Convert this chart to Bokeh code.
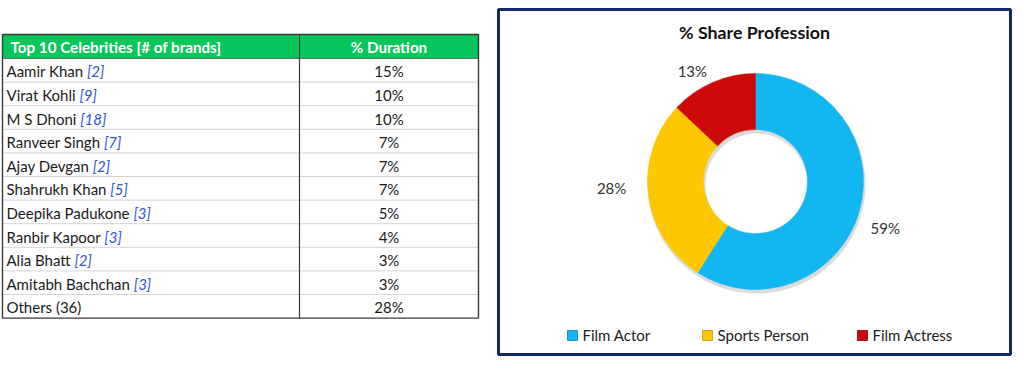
import math
import subprocess
from bokeh.plotting import figure
from bokeh.models import Range1d
from bokeh.core.properties import value
from bokeh.embed import file_html
from bokeh.resources import INLINE

# ---------------- data ----------------
header_labels = ["Top 10 Celebrities [# of brands]", "% Duration"]
celebrities = ["Aamir Khan", "Virat Kohli", "M S Dhoni", "Ranveer Singh", "Ajay Devgan",
               "Shahrukh Khan", "Deepika Padukone", "Ranbir Kapoor", "Alia Bhatt",
               "Amitabh Bachchan"]
brand_counts = [2, 9, 18, 7, 2, 5, 3, 3, 2, 3]
duration_pct = [15, 10, 10, 7, 7, 7, 5, 4, 3, 3]
others_label = "Others (36)"
others_pct = 28

chart_title = "% Share Profession"
professions = ["Film Actor", "Sports Person", "Film Actress"]
profession_share = [59, 28, 13]
profession_colors = ["#12B7F1", "#FEC801", "#CD0A0A"]

# ---------------- layout ----------------
W, H = 1020, 385
FONT = "Lato"


def Y(y_img):
    """image-style (top-down) y to data y"""
    return 389 - y_img


def text_width(s, size, style="Regular"):
    try:
        from PIL import ImageFont
        path = subprocess.run(["fc-match", "-f", "%{file}", f"{FONT}:style={style}"],
                              capture_output=True, text=True).stdout.strip()
        return ImageFont.truetype(path, size).getlength(s)
    except Exception:
        return 0.5 * size * len(s)


p = figure(width=W, height=H, x_range=Range1d(0, W), y_range=Range1d(389 - H, 389),
           output_backend="svg", toolbar_location=None, x_axis_type=None, y_axis_type=None,
           min_border=0, outline_line_color=None, background_fill_color="white",
           border_fill_color="white")
p.xgrid.grid_line_color = None
p.ygrid.grid_line_color = None

# ---------------- table ----------------
TL, TR, TC = 2, 478, 299
T_TOP, HDR_BOT = 34, 58
ROW_H = 23.6
names = celebrities + [others_label]
pcts = duration_pct + [others_pct]
n = len(names)
T_BOT = HDR_BOT + n * ROW_H

p.quad(left=[TL], right=[TR], top=[Y(T_TOP)], bottom=[Y(HDR_BOT)],
       fill_color="#07C75C", line_color=None)

sep = [HDR_BOT + i * ROW_H for i in range(1, n)]
p.multi_line(xs=[[TL, TR] for _ in sep], ys=[[Y(b), Y(b)] for b in sep],
             line_color="#a8a8a8", line_width=1, line_dash="1 1")
p.segment(x0=[TL], y0=[Y(HDR_BOT)], x1=[TR], y1=[Y(HDR_BOT)], line_color="#555555", line_width=0.8)
p.quad(left=[TL], right=[TR], top=[Y(T_TOP)], bottom=[Y(T_BOT)],
       fill_color=None, line_color="#3a3a3a", line_width=1.4)
p.segment(x0=[TC], y0=[Y(T_TOP)], x1=[TC], y1=[Y(T_BOT)], line_color="#3a3a3a", line_width=1.2)

hy = Y((T_TOP + HDR_BOT) / 2 + 0.5)
p.text(x=[10], y=[hy], text=[header_labels[0]], text_font=value(FONT), text_font_style="bold",
       text_font_size="15.2px", text_color="white", text_baseline="middle", text_align="left")
p.text(x=[(TC + TR) / 2], y=[hy], text=[header_labels[1]], text_font=value(FONT),
       text_font_style="bold", text_font_size="15.2px", text_color="white",
       text_baseline="middle", text_align="center")

row_y = [Y(HDR_BOT + (i + 0.5) * ROW_H + 1) for i in range(n)]
NAME_SIZE = 15
p.text(x=[6] * n, y=row_y, text=names, text_font=value(FONT), text_font_size=f"{NAME_SIZE}px",
       text_color="#1a1a1a", text_baseline="middle", text_align="left")
bx = [6 + text_width(nm + " ", NAME_SIZE) for nm in celebrities]
p.text(x=bx, y=row_y[:len(celebrities)], text=[f"[{b}]" for b in brand_counts],
       text_font=value(FONT), text_font_style="italic", text_font_size=f"{NAME_SIZE}px",
       text_color="#2F52DC", text_baseline="middle", text_align="left")
p.text(x=[(TC + TR) / 2] * n, y=row_y, text=[f"{v}%" for v in pcts], text_font=value(FONT),
       text_font_size=f"{NAME_SIZE}px", text_color="#1a1a1a", text_baseline="middle",
       text_align="center")

# ---------------- donut panel ----------------
p.quad(left=[498], right=[1010], top=[Y(9)], bottom=[Y(354)], fill_color=None,
       line_color="#13296B", line_width=3)
p.text(x=[754], y=[Y(31)], text=[chart_title], text_font=value(FONT), text_font_style="bold",
       text_font_size="17.8px", text_color="#111111", text_baseline="middle", text_align="center")

CX, CY = 755, 181
R_OUT, R_IN = 108, 52
total = sum(profession_share)
cum = [0]
for v in profession_share:
    cum.append(cum[-1] + v / total)
starts = [math.pi / 2 - 2 * math.pi * c for c in cum[:-1]]
ends = [math.pi / 2 - 2 * math.pi * c for c in cum[1:]]

# soft shadow
p.annulus(x=[CX + 1], y=[Y(CY) - 3], inner_radius=R_IN - 1, outer_radius=R_OUT + 1,
          fill_color="#000000", fill_alpha=0.14, line_color=None)
p.annular_wedge(x=CX, y=Y(CY), inner_radius=R_IN, outer_radius=R_OUT,
                start_angle=starts, end_angle=ends, direction="clock",
                fill_color=profession_colors, line_color=profession_colors, line_width=0.5)

# data labels (outside, at mid-angle)
label_gap = [30, 36, 19]
label_nudge_deg = [3.7, 4.8, -6.4]
lx, ly, lt = [], [], []
for i, v in enumerate(profession_share):
    mid = 360 * (cum[i] + cum[i + 1]) / 2 + label_nudge_deg[i]
    r = R_OUT + label_gap[i]
    lx.append(CX + r * math.sin(math.radians(mid)))
    ly.append(Y(CY - r * math.cos(math.radians(mid))))
    lt.append(f"{v}%")
p.text(x=lx, y=ly, text=lt, text_font=value(FONT), text_font_size="15px",
       text_color="#333333", text_baseline="middle", text_align="center")

# legend
legend_left = [567, 702, 857]
LEG_Y = Y(335)
p.rect(x=[l + 5 for l in legend_left], y=[LEG_Y] * 3, width=10, height=10,
       fill_color=profession_colors, line_color=["#0a7fb0", "#c99500", "#8a0000"], line_width=0.8)
p.text(x=[l + 15 for l in legend_left], y=[LEG_Y + 0.5] * 3, text=professions,
       text_font=value(FONT), text_font_size="15px", text_color="#222222",
       text_baseline="middle", text_align="left")

open("out.html", "w").write(file_html(p, INLINE))
